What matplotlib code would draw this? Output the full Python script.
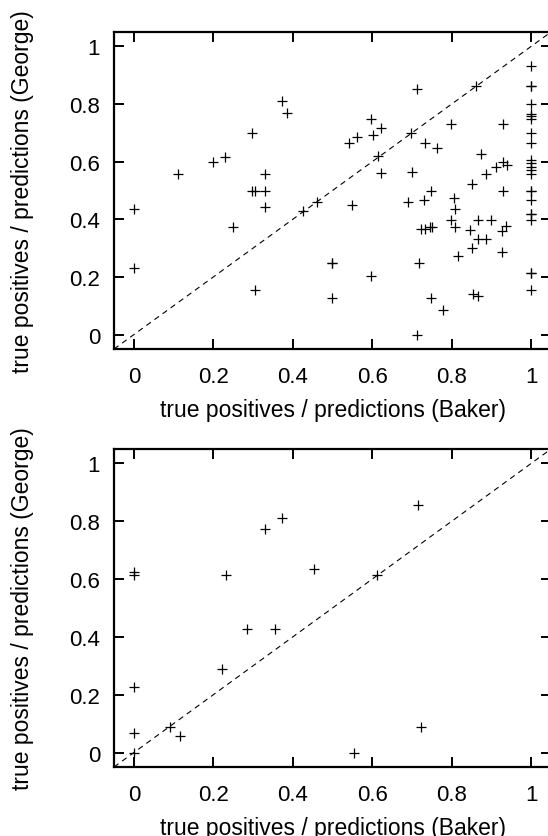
import matplotlib
matplotlib.use("Agg")
import matplotlib.pyplot as plt

# Top panel: all predictions
top_baker = [0.373, 0.385, 0.298, 0.200, 0.229, 0.111, 0.331, 0.298, 0.305, 0.331, 0.331,
             0.000, 0.249, 0.427, 0.460, 0.000, 0.306,
             0.712, 0.861, 1.0, 1.0, 1.0, 1.0, 1.0, 1.0, 1.0, 1.0, 1.0,
             1.0, 1.0, 1.0, 1.0, 1.0, 1.0, 1.0, 1.0, 1.0, 1.0, 1.0, 1.0, 1.0, 1.0,
             0.598, 0.623, 0.603, 0.561, 0.541, 0.697, 0.798, 0.930, 0.615, 0.623,
             0.732, 0.762, 0.873, 0.912, 0.930, 0.940, 0.699, 0.886, 0.850, 0.930,
             0.749, 0.731, 0.690, 0.548, 0.806, 0.809, 0.798, 0.809, 0.865, 0.898,
             0.846, 0.937, 0.927, 0.865, 0.886, 0.850, 0.816, 0.927,
             0.724, 0.732, 0.745, 0.751, 0.717, 0.499, 0.499, 0.598, 0.499, 0.749,
             0.779, 0.853, 0.865, 0.712]
top_george = [0.812, 0.770, 0.698, 0.599, 0.616, 0.556, 0.556, 0.500, 0.500, 0.498, 0.443,
              0.436, 0.374, 0.429, 0.461, 0.232, 0.153,
              0.853, 0.864, 0.933, 0.864, 0.864, 0.801, 0.767, 0.758, 0.749, 0.698, 0.666,
              0.606, 0.595, 0.583, 0.572, 0.556, 0.498, 0.498, 0.468, 0.418, 0.418, 0.399, 0.212, 0.212, 0.154,
              0.749, 0.717, 0.694, 0.687, 0.664, 0.701, 0.730, 0.730, 0.618, 0.560,
              0.666, 0.646, 0.625, 0.583, 0.599, 0.588, 0.565, 0.556, 0.521, 0.498,
              0.498, 0.468, 0.461, 0.448, 0.475, 0.436, 0.399, 0.374, 0.399, 0.399,
              0.363, 0.377, 0.358, 0.333, 0.333, 0.301, 0.271, 0.287,
              0.365, 0.367, 0.374, 0.374, 0.250, 0.250, 0.250, 0.202, 0.126, 0.126,
              0.087, 0.142, 0.135, 0.000]

# Bottom panel: subset
bot_baker = [0.0, 0.0, 0.231, 0.373, 0.331, 0.714, 0.454, 0.613, 0.284, 0.356,
             0.222, 0.0, 0.090, 0.117, 0.0, 0.0, 0.554, 0.724]
bot_george = [0.623, 0.613, 0.613, 0.811, 0.775, 0.856, 0.634, 0.613, 0.427, 0.427,
              0.288, 0.228, 0.090, 0.057, 0.069, 0.0, 0.0, 0.090]

ticks = [0, 0.2, 0.4, 0.6, 0.8, 1]
tick_labels = ["0", "0.2", "0.4", "0.6", "0.8", "1"]
xlabel = "true positives / predictions (Baker)"
ylabel = "true positives / predictions (George)"

plt.rcParams['font.family'] = ['Liberation Sans', 'DejaVu Sans']

W, H = 548, 837
fig = plt.figure(figsize=(W / 100, H / 100), dpi=100)
ax1 = fig.add_axes([114 / W, (H - 350) / H, 437 / W, 317 / H])
ax2 = fig.add_axes([114 / W, (H - 768) / H, 437 / W, 318 / H])

lim = (-0.05, 1.05)
for ax, xs, ys in [(ax1, top_baker, top_george), (ax2, bot_baker, bot_george)]:
    ax.plot(lim, lim, linestyle=(0, (5, 4)), color='black', linewidth=0.8)
    ax.plot(xs, ys, linestyle='none', marker='+', markersize=7.2,
            markeredgewidth=0.9, color='black', clip_on=False)
    ax.set_xlim(*lim)
    ax.set_ylim(*lim)
    ax.set_xticks(ticks)
    ax.set_xticklabels(tick_labels)
    ax.set_yticks(ticks)
    ax.set_yticklabels(tick_labels)
    ax.tick_params(direction='in', length=7.5, width=1.4, labelsize=16,
                   top=True, right=True, color='black')
    ax.tick_params(axis='x', pad=12)
    ax.tick_params(axis='y', pad=10)
    for s in ax.spines.values():
        s.set_linewidth(1.6)
    ax.set_xlabel(xlabel, fontsize=16.5)
    ax.set_ylabel(ylabel, fontsize=16.5)
    ax.xaxis.set_label_coords(0.5, -0.155)
    ax.yaxis.set_label_coords(-0.183, 0.5)

fig.savefig("out.png", dpi=100)
